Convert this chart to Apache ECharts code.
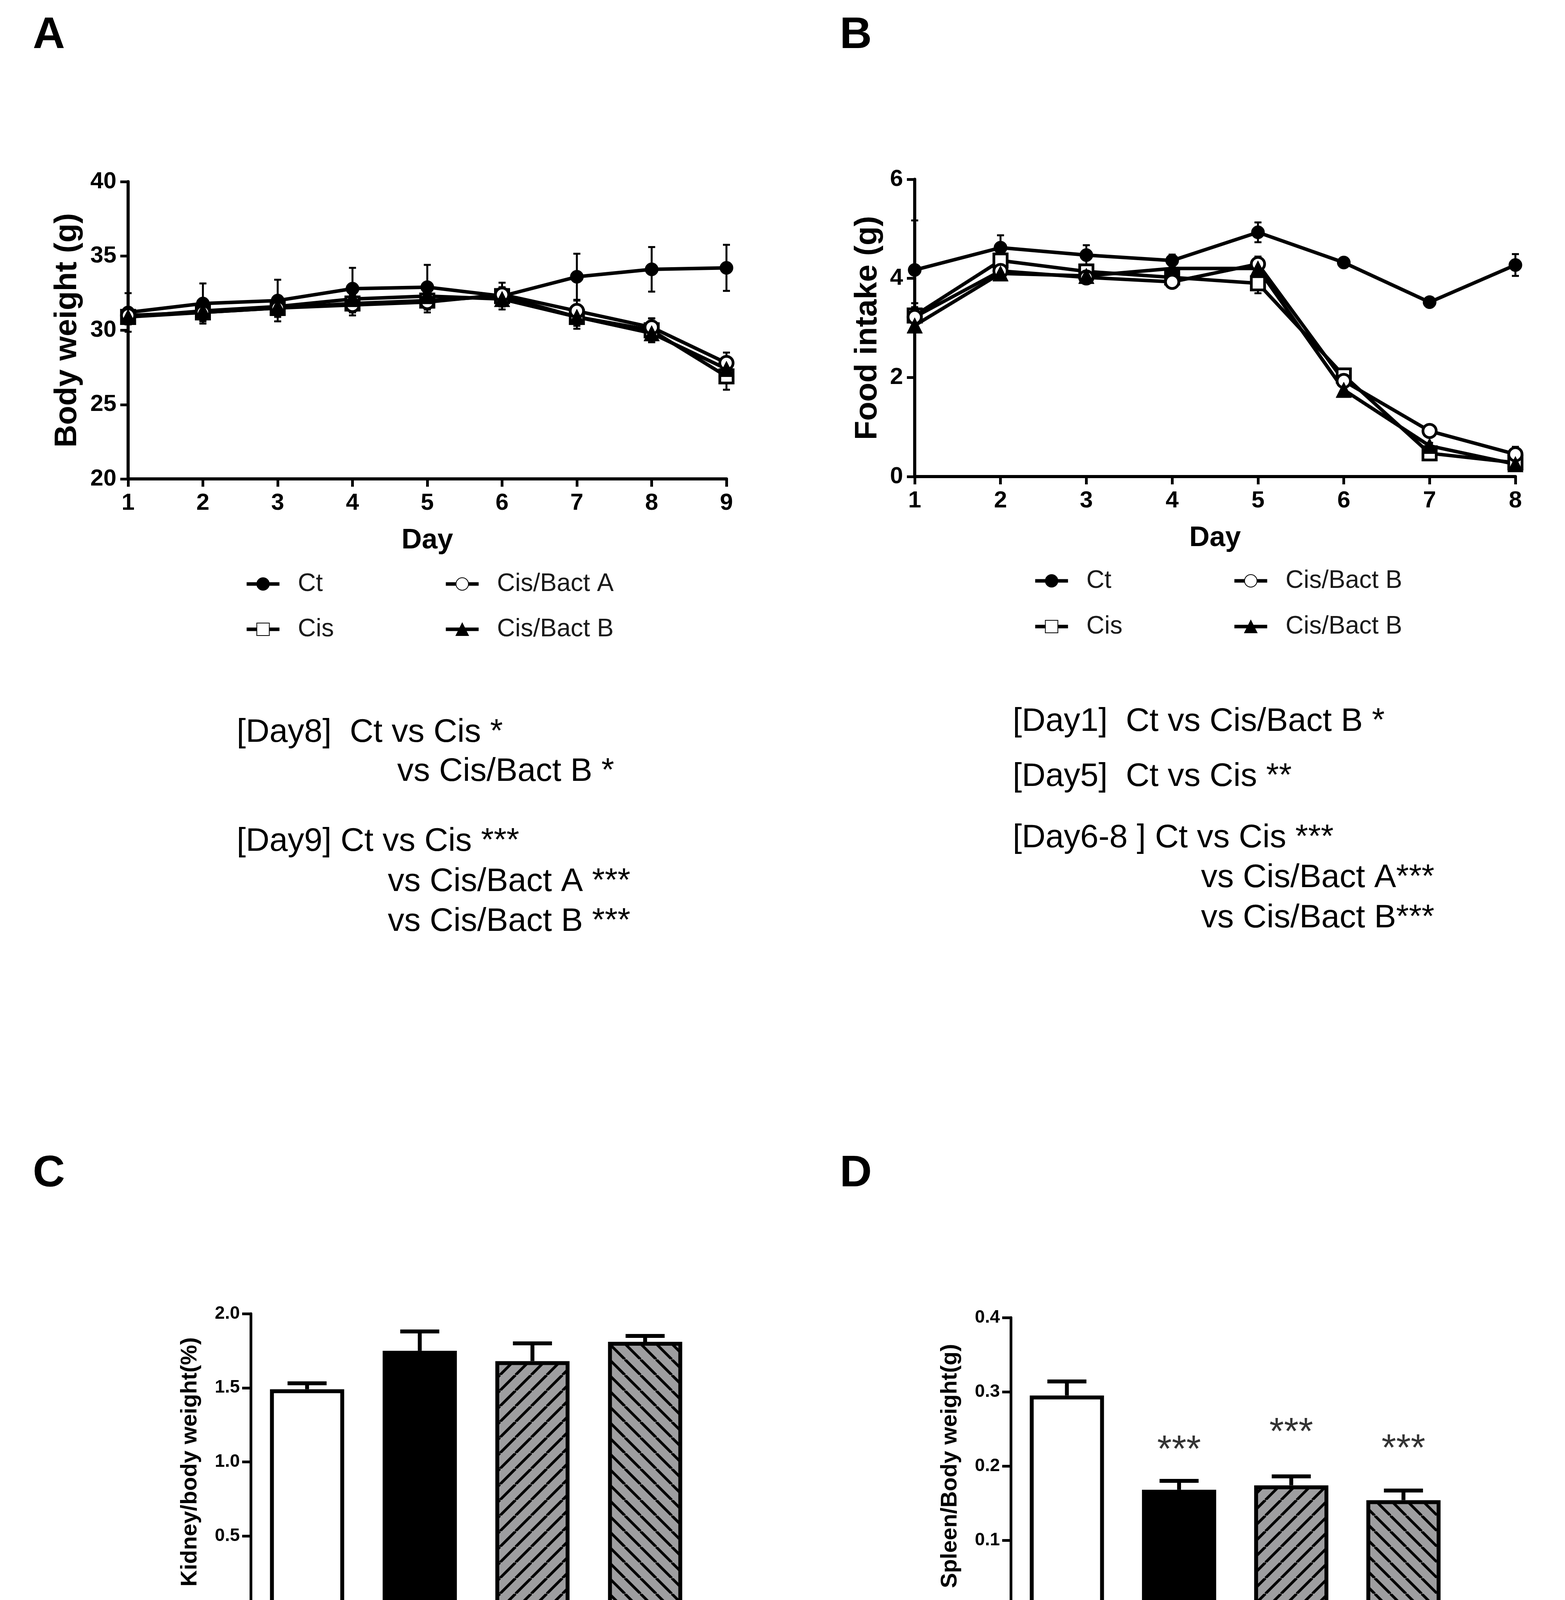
<!DOCTYPE html>
<html>
<head>
<meta charset="utf-8">
<script src="https://cdn.jsdelivr.net/npm/echarts@6/dist/echarts.min.js"></script>
<style>
html,body{margin:0;padding:0;background:#fff;}
#main{width:4007px;height:4462px;}
</style>
</head>
<body>
<div id="main"></div>
<script>
// ---- data ----
// A: body weight (g)
var daysA = ['1','2','3','4','5','6','7','8','9'];
var ctWeight     = [31.2, 31.8, 32.0, 32.8, 32.9, 32.3, 33.6, 34.1, 34.2];
var ctWeightErr  = [1.3, 1.35, 1.4, 1.4, 1.5, 0.9, 1.55, 1.5, 1.55];
var cisWeight    = [30.9, 31.2, 31.5, 31.8, 32.0, 32.3, 30.9, 30.0, 26.9];
var cisWeightErr = [0.5, 0.5, 0.5, 0.6, 0.6, 0.5, 0.8, 0.8, 0.9];
var bactAWeight    = [31.0, 31.2, 31.5, 31.7, 31.9, 32.4, 31.3, 30.2, 27.8];
var bactAWeightErr = [0.5, 0.6, 0.6, 0.7, 0.7, 0.5, 0.7, 0.6, 0.7];
var bactBWeight    = [30.9, 31.3, 31.6, 32.1, 32.3, 32.1, 30.9, 29.8, 27.4];
var bactBWeightErr = [0.5, 0.5, 0.5, 0.5, 0.5, 0.5, 0.6, 0.6, 0.6];

// B: food intake (g)
var daysB = ['1','2','3','4','5','6','7','8'];
var ctFood     = [4.17, 4.62, 4.47, 4.36, 4.93, 4.32, 3.52, 4.27];
var ctFoodErr  = [1.0, 0.25, 0.2, 0.12, 0.2, 0.06, 0.06, 0.22];
var cisFood    = [3.25, 4.36, 4.14, 4.02, 3.9, 2.04, 0.47, 0.28];
var cisFoodErr = [0.25, 0.15, 0.12, 0.1, 0.2, 0.1, 0.08, 0.06];
var bactAFood    = [3.22, 4.15, 4.02, 3.93, 4.29, 1.93, 0.92, 0.45];
var bactAFoodErr = [0.2, 0.12, 0.12, 0.12, 0.15, 0.1, 0.12, 0.15];
var bactBFood    = [3.05, 4.1, 4.05, 4.2, 4.2, 1.75, 0.62, 0.25];
var bactBFoodErr = [0.1, 0.1, 0.1, 0.1, 0.1, 0.08, 0.06, 0.05];
var legendLabelsB = {'Ct':'Ct','Cis':'Cis','Cis/Bact A':'Cis/Bact B','Cis/Bact B':'Cis/Bact B'};

// C / D: organ ratios
var barGroups = ['Ct','Cis','Cis/Bact A','Cis/BactB'];
var kidneyRatio = [1.49, 1.75, 1.68, 1.81];
var kidneyErr   = [0.04, 0.13, 0.12, 0.04];
var spleenRatio = [0.295, 0.168, 0.174, 0.154];
var spleenErr   = [0.019, 0.012, 0.012, 0.013];
var spleenStarY = [null, 0.22, 0.244, 0.222];
var spleenStars = ['', '***', '***', '***'];

// notes under A and B
var notesA = [
	'[Day8]  Ct vs Cis *',
	'vs Cis/Bact B *',
	'[Day9] Ct vs Cis ***',
	'vs Cis/Bact A ***',
	'vs Cis/Bact B ***'
];
var notesB = [
	'[Day1]  Ct vs Cis/Bact B *',
	'[Day5]  Ct vs Cis **',
	'[Day6-8 ] Ct vs Cis ***',
	'vs Cis/Bact A***',
	'vs Cis/Bact B***'
];

var FONT = "'Liberation Sans', Arial, sans-serif";

//斜线填充
function makeHatch(dir){
	var t = 40;
	var c = document.createElement('canvas');
	c.width = t; c.height = t;
	var ctx = c.getContext('2d');
	ctx.fillStyle = '#9e9ea0';
	ctx.fillRect(0, 0, t, t);
	ctx.strokeStyle = '#000';
	ctx.lineWidth = 7;
	ctx.beginPath();
	for(var k = -t; k <= t; k += t){
		if(dir == '/'){
			ctx.moveTo(k, t); ctx.lineTo(k + t, 0);
		}else{
			ctx.moveTo(k, 0); ctx.lineTo(k + t, t);
		}
	}
	ctx.stroke();
	return c;
}

function errData(vals, errs, upOnly){
	var out = [];
	for(var i = 0; i < vals.length; i++){
		out.push([i, upOnly ? vals[i] : vals[i] - errs[i], vals[i] + errs[i]]);
	}
	return out;
}

function errSeries(vals, errs, idx, capW, lw, upOnly){
	return {
		type: 'custom',
		xAxisIndex: idx,
		yAxisIndex: idx,
		z: 1,
		silent: true,
		data: errData(vals, errs, upOnly),
		renderItem: function(params, api){
			var xv = api.value(0);
			var lo = api.coord([xv, api.value(1)]);
			var hi = api.coord([xv, api.value(2)]);
			var st = {stroke:'#000', lineWidth:lw};
			var kids = [
				{type:'line', shape:{x1:lo[0], y1:lo[1], x2:hi[0], y2:hi[1]}, style:st},
				{type:'line', shape:{x1:hi[0]-capW/2, y1:hi[1], x2:hi[0]+capW/2, y2:hi[1]}, style:st}
			];
			if(!upOnly){
				kids.push({type:'line', shape:{x1:lo[0]-capW/2, y1:lo[1], x2:lo[0]+capW/2, y2:lo[1]}, style:st});
			}
			return {type:'group', children:kids};
		}
	};
}

function lineSeries(name, vals, idx, symbol, open){
	return {
		name: name,
		type: 'line',
		xAxisIndex: idx,
		yAxisIndex: idx,
		data: vals,
		z: 3,
		symbol: symbol,
		symbolSize: symbol == 'triangle' ? 40 : 34,
		lineStyle: {color:'#000', width:9},
		itemStyle: open ? {color:'#fff', borderColor:'#000', borderWidth:7} : {color:'#000', borderColor:'#000', borderWidth:1}
	};
}

var axisLineStyle = {show:true, lineStyle:{color:'#000', width:8}};

function lineXAxis(idx, cats){
	return {
		type: 'category', gridIndex: idx, data: cats, boundaryGap: false,
		axisLine: axisLineStyle,
		axisTick: {show:true, length:20, lineStyle:{color:'#000', width:7}},
		axisLabel: {color:'#000', fontFamily:FONT, fontWeight:'bold', fontSize:60, margin:32},
		splitLine: {show:false},
		name: 'Day', nameLocation: 'middle', nameGap: 122,
		nameTextStyle: {color:'#000', fontFamily:FONT, fontWeight:'bold', fontSize:72}
	};
}

function lineYAxis(idx, min, max, step, title, gap){
	return {
		type: 'value', gridIndex: idx, min: min, max: max, interval: step,
		axisLine: axisLineStyle,
		axisTick: {show:true, length:20, lineStyle:{color:'#000', width:7}},
		axisLabel: {color:'#000', fontFamily:FONT, fontWeight:'bold', fontSize:60, margin:30},
		splitLine: {show:false},
		name: title, nameLocation: 'middle', nameGap: gap,
		nameTextStyle: {color:'#000', fontFamily:FONT, fontWeight:'bold', fontSize:80}
	};
}

function barXAxis(idx){
	return {
		type: 'category', gridIndex: idx, data: barGroups,
		axisLine: {show:true, lineStyle:{color:'#000', width:7}},
		axisTick: {show:true, alignWithLabel:true, length:32, lineStyle:{color:'#000', width:7}},
		axisLabel: {color:'#000', fontFamily:FONT, fontWeight:'bold', fontSize:66, rotate:45, margin:46}
	};
}

function barYAxis(idx, max, step, title){
	return {
		type: 'value', gridIndex: idx, min: 0, max: max, interval: step,
		axisLine: {show:true, lineStyle:{color:'#000', width:7}},
		axisTick: {show:true, length:22, lineStyle:{color:'#000', width:7}},
		axisLabel: {color:'#000', fontFamily:FONT, fontWeight:'bold', fontSize:46, margin:28,
			formatter: function(v){ return v.toFixed(1); }},
		splitLine: {show:false},
		name: title, nameLocation: 'middle', nameGap: 126,
		nameTextStyle: {color:'#000', fontFamily:FONT, fontWeight:'bold', fontSize:58}
	};
}

var hatchA = {image: makeHatch('/'), repeat: 'repeat'};
var hatchB = {image: makeHatch('\\'), repeat: 'repeat'};
var barFills = ['#fff', '#000', hatchA, hatchB];

function barSeries(vals, idx){
	var d = [];
	for(var i = 0; i < vals.length; i++){
		d.push({value: vals[i], itemStyle:{color: barFills[i]}});
	}
	return {
		type: 'bar', xAxisIndex: idx, yAxisIndex: idx, data: d, barWidth: 190, z: 2,
		itemStyle: {borderColor:'#000', borderWidth:10}
	};
}

function legendBox(idx, names, left, top, gap, labels){
	return {
		data: names,
		orient: 'vertical',
		left: left, top: top, padding: 0,
		itemWidth: 84, itemHeight: 40, itemGap: gap,
		selectedMode: false,
		lineStyle: {width: 9, color: '#000'},
		textStyle: {color:'#1a1a1a', fontFamily:FONT, fontSize:64, lineHeight:64, padding:[0,0,0,42]},
		formatter: function(n){ return labels ? labels[n] : n; }
	};
}

function noteText(txt, x, baseline){
	return {type:'text', style:{text:txt, x:x, y:baseline - 30, fill:'#000', fontFamily:FONT, fontSize:84, verticalAlign:'middle'}};
}
function panelLetter(txt, x, y){
	return {type:'text', style:{text:txt, x:x, y:y, fill:'#000', fontFamily:FONT, fontWeight:'bold', fontSize:114, verticalAlign:'middle'}};
}

var graphics = [
	panelLetter('A', 84, 92), panelLetter('B', 2150, 92),
	panelLetter('C', 84, 3006), panelLetter('D', 2150, 3006),
	noteText(notesA[0], 606, 1906), noteText(notesA[1], 1017, 2006),
	noteText(notesA[2], 606, 2185), noteText(notesA[3], 993, 2288), noteText(notesA[4], 993, 2390),
	noteText(notesB[0], 2593, 1878), noteText(notesB[1], 2593, 2019),
	noteText(notesB[2], 2593, 2176), noteText(notesB[3], 3075, 2278), noteText(notesB[4], 3075, 2381)
];

var myChart = echarts.init(document.getElementById('main'), null, {renderer:'canvas'});

var option = {
	backgroundColor: '#fff',
	animation: false,
	textStyle: {fontFamily: FONT},
	grid: [
		{left:328, top:465, width:1532, height:761},
		{left:2342, top:459, width:1538, height:761},
		{left:642, top:3363, width:1154, height:759},
		{left:2588, top:3373, width:1149, height:760}
	],
	legend: [
		legendBox(0, ['Ct','Cis'], 627, 1463, 52),
		legendBox(0, ['Cis/Bact A','Cis/Bact B'], 1137, 1463, 52),
		legendBox(1, ['Ct','Cis'], 2646, 1455, 53, legendLabelsB),
		legendBox(1, ['Cis/Bact A','Cis/Bact B'], 3156, 1455, 53, legendLabelsB)
	],
	xAxis: [lineXAxis(0, daysA), lineXAxis(1, daysB), barXAxis(2), barXAxis(3)],
	yAxis: [
		lineYAxis(0, 20, 40, 5, 'Body weight (g)', 115),
		lineYAxis(1, 0, 6, 2, 'Food intake (g)', 80),
		barYAxis(2, 2.0, 0.5, 'Kidney/body weight(%)'),
		barYAxis(3, 0.4, 0.1, 'Spleen/Body weight(g)')
	],
	graphic: {elements: graphics},
	series: [
		errSeries(ctWeight, ctWeightErr, 0, 18, 5),
		errSeries(cisWeight, cisWeightErr, 0, 18, 5),
		errSeries(bactAWeight, bactAWeightErr, 0, 18, 5),
		errSeries(bactBWeight, bactBWeightErr, 0, 18, 5),
		lineSeries('Ct', ctWeight, 0, 'circle', false),
		lineSeries('Cis', cisWeight, 0, 'rect', true),
		lineSeries('Cis/Bact A', bactAWeight, 0, 'circle', true),
		lineSeries('Cis/Bact B', bactBWeight, 0, 'triangle', false),

		errSeries(ctFood, ctFoodErr, 1, 18, 5),
		errSeries(cisFood, cisFoodErr, 1, 18, 5),
		errSeries(bactAFood, bactAFoodErr, 1, 18, 5),
		errSeries(bactBFood, bactBFoodErr, 1, 18, 5),
		lineSeries('Ct', ctFood, 1, 'circle', false),
		lineSeries('Cis', cisFood, 1, 'rect', true),
		lineSeries('Cis/Bact A', bactAFood, 1, 'circle', true),
		lineSeries('Cis/Bact B', bactBFood, 1, 'triangle', false),

		barSeries(kidneyRatio, 2),
		errSeries(kidneyRatio, kidneyErr, 2, 100, 10, true),
		barSeries(spleenRatio, 3),
		errSeries(spleenRatio, spleenErr, 3, 100, 10, true),
		{
			type: 'scatter', xAxisIndex: 3, yAxisIndex: 3, data: spleenStarY,
			symbolSize: 1, itemStyle: {color:'rgba(0,0,0,0)'}, silent: true,
			label: {show:true, position:'inside', color:'#000', fontFamily:FONT, fontSize:96,
				formatter: function(p){ return spleenStars[p.dataIndex]; }}
		}
	]
};

myChart.setOption(option);
</script>
</body>
</html>
